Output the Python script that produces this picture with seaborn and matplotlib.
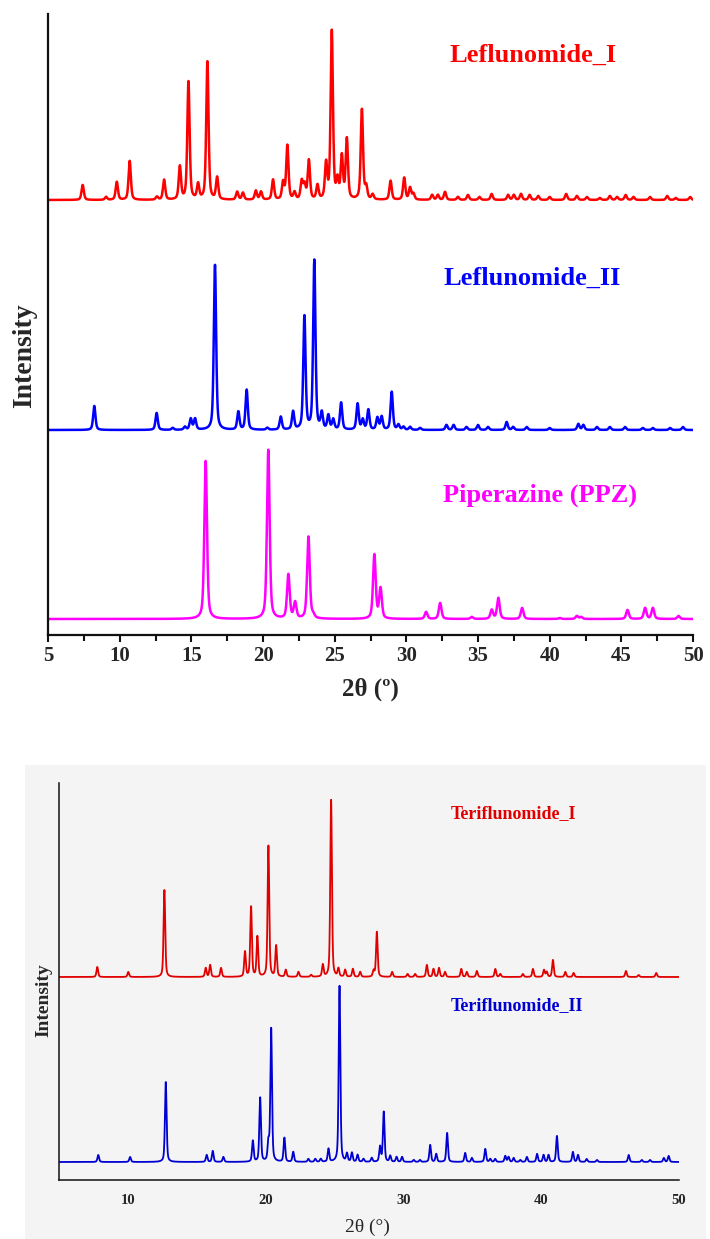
import numpy as np
import pandas as pd
import matplotlib
matplotlib.use("Agg")
import matplotlib.pyplot as plt
from matplotlib.patches import Rectangle
from matplotlib.ticker import MultipleLocator
import seaborn as sns

# ---------------- data (peak positions in 2theta, apparent peak heights) ----------------
LEF1_POS = [7.42, 9.05, 9.8, 10.7, 12.6, 13.1, 14.2, 14.8, 15.47, 16.12, 16.8, 18.2, 18.6, 19.5, 19.86,
            20.7, 21.4, 21.7, 22.2, 22.7, 22.9, 23.2, 23.8, 24.4, 24.8, 25.2, 25.5, 25.85, 26.9, 27.2,
            27.65, 28.9, 29.85, 30.26, 30.5, 31.8, 32.2, 32.7, 33.6, 34.3, 35.1, 35.95, 37.1, 37.5, 38.0,
            38.6, 39.2, 40.0, 41.15, 41.9, 42.6, 43.5, 44.2, 44.7, 45.3, 45.85, 47.0, 48.2, 48.8, 49.8]
LEF1_INT = [15, 3, 18, 39, 3, 20, 33, 118, 15, 138, 22, 8, 7, 9, 8,
            20, 17, 54, 7, 18, 14, 39, 14, 35, 168, 18, 42, 60, 90, 12,
            5, 19, 22, 12, 6, 5, 5, 8, 3, 5, 3, 6, 5, 5, 6,
            5, 4, 3, 6, 4, 3, 2, 4, 3, 5, 3, 3, 4, 2, 3]

LEF2_POS = [8.23, 12.58, 13.7, 14.55, 14.96, 15.26, 16.65, 18.28, 18.86, 20.3, 21.24, 22.1, 22.89, 23.58,
            24.1, 24.56, 24.9, 25.45, 26.6, 26.96, 27.35, 27.98, 28.28, 28.98, 29.45, 29.8, 30.26, 30.96,
            32.8, 33.3, 34.2, 35.0, 35.7, 37.0, 37.45, 38.4, 40.0, 42.0, 42.35, 43.3, 44.2, 45.26, 46.5,
            47.2, 48.4, 49.3]
LEF2_INT = [24, 17, 2, 3, 11, 11, 165, 18, 40, 2, 13, 18, 113, 169,
            16, 14, 10, 27, 26, 10, 20, 12, 13, 38, 5, 3, 3, 2,
            5, 5, 3, 5, 3, 8, 3, 3, 2, 6, 5, 3, 3, 3, 2,
            2, 2, 3]

PPZ_POS = [16.0, 20.37, 21.77, 22.24, 23.17, 23.5, 27.77, 28.2, 31.38, 32.36, 34.57, 35.96, 36.42, 38.08,
           40.7, 41.9, 42.2, 45.43, 46.66, 47.2, 48.99]
PPZ_INT = [158, 169, 44, 16, 82, 3, 64, 30, 7, 16, 2, 9, 21, 11,
           1, 3, 2, 9, 11, 11, 3]

TER1_POS = [7.78, 10.03, 12.65, 15.65, 15.97, 16.76, 18.5, 18.94, 19.4, 20.2, 20.76, 21.46, 22.38, 23.3,
            24.15, 24.75, 25.28, 25.77, 26.33, 26.86, 27.83, 28.07, 29.18, 30.3, 30.85, 31.7, 32.18, 32.58,
            33.02, 34.2, 34.6, 35.33, 36.67, 37.03, 38.67, 39.4, 40.2, 40.4, 40.85, 41.75, 42.35, 46.15,
            47.07, 48.35]
TER1_INT = [10, 5, 87, 9, 12, 9, 25, 70, 40, 131, 31, 7, 5, 2,
            12, 177, 8, 7, 8, 5, 6, 45, 5, 3, 3, 12, 8, 9,
            5, 8, 5, 6, 8, 3, 3, 8, 7, 5, 17, 5, 4, 6,
            2, 4]

TER2_POS = [7.85, 10.16, 12.75, 15.72, 16.16, 16.93, 19.07, 19.6, 20.2, 20.4, 21.36, 22.0, 23.1, 23.6,
            24.0, 24.56, 25.36, 25.9, 26.26, 26.67, 27.1, 27.7, 28.3, 28.57, 29.04, 29.5, 29.9, 30.75,
            31.2, 31.94, 32.38, 33.17, 34.48, 34.97, 35.94, 36.3, 36.66, 37.39, 37.63, 38.0, 38.48, 38.96,
            39.7, 40.17, 40.53, 41.14, 42.3, 42.67, 43.3, 44.05, 46.35, 47.3, 47.9, 48.9, 49.25]
TER2_INT = [7, 5, 80, 7, 11, 5, 21, 64, 18, 133, 24, 10, 3, 3,
            3, 13, 176, 8, 9, 7, 3, 4, 15, 50, 6, 5, 5, 2,
            2, 17, 8, 29, 9, 4, 13, 3, 3, 6, 5, 4, 2, 5,
            8, 7, 7, 26, 10, 7, 3, 2, 7, 2, 2, 4, 6]

TOP_NAMES = ["Leflunomide_I", "Leflunomide_II", "Piperazine (PPZ)"]
BOT_NAMES = ["Teriflunomide_I", "Teriflunomide_II"]
X_TICKS_TOP = [5, 10, 15, 20, 25, 30, 35, 40, 45, 50]
X_TICKS_BOT = [10, 20, 30, 40, 50]


def profile(x, pos, inten, fwhm, eta):
    y = np.zeros_like(x)
    hw = fwhm / 2.0
    for p, h in zip(pos, inten):
        d = (x - p) / hw
        y += h * (eta / (1 + d ** 2) + (1 - eta) * np.exp(-np.log(2) * d ** 2))
    return y


x = np.arange(5.0, 50.0001, 0.01)

top_df = pd.concat([
    pd.DataFrame({"two_theta": x, "y": profile(x, LEF1_POS, LEF1_INT, 0.19, 0.5) + 435, "phase": TOP_NAMES[0]}),
    pd.DataFrame({"two_theta": x, "y": profile(x, LEF2_POS, LEF2_INT, 0.19, 0.5) + 205, "phase": TOP_NAMES[1]}),
    pd.DataFrame({"two_theta": x, "y": profile(x, PPZ_POS, PPZ_INT, 0.22, 0.5) + 16, "phase": TOP_NAMES[2]}),
])
bot_df = pd.concat([
    pd.DataFrame({"two_theta": x, "y": profile(x, TER1_POS, TER1_INT, 0.14, 0.45) + 203, "phase": BOT_NAMES[0]}),
    pd.DataFrame({"two_theta": x, "y": profile(x, TER2_POS, TER2_INT, 0.14, 0.45) + 18, "phase": BOT_NAMES[1]}),
])

# ---------------- style ----------------
sns.set_theme(style="white")
plt.rcParams["font.family"] = ["Liberation Serif", "DejaVu Serif"]
plt.rcParams["mathtext.fontset"] = "stix"

W, H = 710, 1239
fig = plt.figure(figsize=(W / 100, H / 100), dpi=100)
fig.patch.set_facecolor("white")

# grey background box of the lower figure (drawn behind the axes)
fig.patches.append(Rectangle((25 / W, 0), (706 - 25) / W, 1 - 765 / H, transform=fig.transFigure,
                             facecolor="#f4f4f4", edgecolor="none", zorder=-5))


def axes_px(left, top, right, bottom):
    return fig.add_axes([left / W, 1 - bottom / H, (right - left) / W, (bottom - top) / H])


# ---------------- top panel ----------------
ax1 = axes_px(48, 14, 693, 635)
ax1.set_facecolor("none")
top_colors = {TOP_NAMES[0]: "#ff0000", TOP_NAMES[1]: "#0000ff", TOP_NAMES[2]: "#ff00ff"}
sns.lineplot(data=top_df, x="two_theta", y="y", hue="phase", palette=top_colors, ax=ax1,
             legend=False, estimator=None, sort=False, linewidth=1.8)
ax1.set_xlim(5, 50)
ax1.set_ylim(0, 621)
ax1.set_yticks([])
ax1.set_xticks(X_TICKS_TOP)
ax1.xaxis.set_minor_locator(MultipleLocator(2.5))
for s in ["top", "right"]:
    ax1.spines[s].set_visible(False)
for s in ["left", "bottom"]:
    ax1.spines[s].set_color("#111111")
    ax1.spines[s].set_linewidth(1.6)
ax1.tick_params(axis="x", which="major", direction="out", length=5, width=1.5, color="#111111",
                bottom=True, labelsize=15, pad=3)
ax1.tick_params(axis="x", which="minor", direction="out", length=4, width=1.5, color="#111111", bottom=True)
for lab in ax1.get_xticklabels():
    lab.set_fontweight("bold")
ax1.set_xlabel("2θ (º)", fontsize=18, fontweight="bold")
ax1.set_ylabel("Intensity", fontsize=20, fontweight="bold")
ax1.xaxis.set_label_coords(0.5, -0.088)
ax1.xaxis.label.set_va("center")
ax1.yaxis.set_label_coords(-0.037, 0.449)
ax1.yaxis.label.set_va("center")

top_text_pos = [(38.85, 580), (38.8, 357), (39.3, 140)]
for name, (tx, ty) in zip(TOP_NAMES, top_text_pos):
    ax1.text(tx, ty, name, color=top_colors[name], fontsize=19, fontweight="bold",
             ha="center", va="center")

# ---------------- bottom panel ----------------
ax2 = axes_px(59, 783, 679, 1180)
ax2.set_facecolor("none")
bot_colors = {BOT_NAMES[0]: "#e00000", BOT_NAMES[1]: "#0000d0"}
sns.lineplot(data=bot_df, x="two_theta", y="y", hue="phase", palette=bot_colors, ax=ax2,
             legend=False, estimator=None, sort=False, linewidth=1.3)
ax2.set_xlim(5, 50)
ax2.set_ylim(0, 397)
ax2.set_yticks([])
ax2.set_xticks(X_TICKS_BOT)
for s in ["top", "right"]:
    ax2.spines[s].set_visible(False)
for s in ["left", "bottom"]:
    ax2.spines[s].set_color("#111111")
    ax2.spines[s].set_linewidth(1.1)
ax2.tick_params(axis="x", length=0, labelsize=10.5, pad=10)
for lab in ax2.get_xticklabels():
    lab.set_fontweight("bold")
ax2.set_xlabel("2θ (°)", fontsize=14)
ax2.set_ylabel("Intensity", fontsize=14, fontweight="bold")
ax2.xaxis.set_label_coords(0.498, -0.118)
ax2.xaxis.label.set_va("center")
ax2.yaxis.set_label_coords(-0.024, 0.453)
ax2.yaxis.label.set_va("center")

bot_text_pos = [(37.97, 366), (38.26, 174)]
for name, (tx, ty) in zip(BOT_NAMES, bot_text_pos):
    ax2.text(tx, ty, name, color=bot_colors[name], fontsize=13, fontweight="bold",
             ha="center", va="center")

fig.savefig("out.png", dpi=100, facecolor="white")
